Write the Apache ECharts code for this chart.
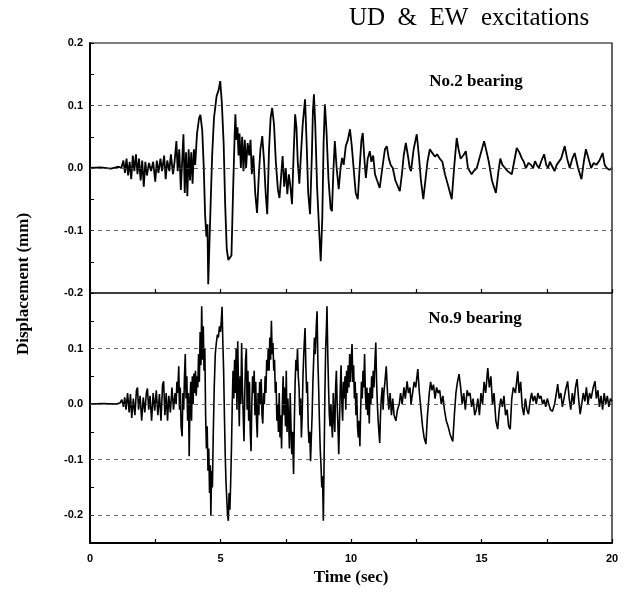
<!DOCTYPE html>
<html>
<head>
<meta charset="utf-8">
<script src="https://cdn.jsdelivr.net/npm/echarts@6/dist/echarts.min.js"></script>
<style>
  html, body { margin: 0; padding: 0; background: #fff; }
  #chart { width: 636px; height: 592px; }
</style>
</head>
<body>
<div id="chart"></div>
<script>
// time axis ticks (sec)
var timeTicks = [0, 5, 10, 15, 20];
// gridline levels for each panel (mm)
var no2Levels = [0.1, 0.0, -0.1];
var no9Levels = [0.1, 0.0, -0.1, -0.2];

// No.2 bearing displacement, [time(sec), mm]
var no2Points = [
  [0,0],[0.4,0.001],[0.8,-0.001],[1.1,0.002],[1.2,0],
  [1.28,0.012],[1.34,-0.008],[1.4,0.015],[1.46,-0.012],[1.52,0.01],[1.58,-0.018],[1.64,0.02],[1.7,-0.005],[1.76,0.022],[1.82,-0.01],
  [1.88,0.015],[1.94,-0.02],[2.0,0.012],[2.06,-0.03],[2.12,0.01],[2.18,-0.012],[2.26,0.008],[2.34,-0.005],[2.42,0.01],[2.5,-0.022],
  [2.56,0.012],[2.62,-0.008],[2.7,0.015],[2.76,-0.005],[2.84,0.02],[2.9,-0.018],[2.96,0.012],[3.04,-0.005],[3.1,0.022],[3.18,-0.01],[3.24,0.01],
  [3.31,0.043],[3.36,-0.005],[3.42,0.03],[3.48,-0.035],[3.53,0.01],[3.58,0.054],[3.63,-0.04],[3.68,0.025],[3.73,-0.045],[3.78,0.03],
  [3.83,-0.02],[3.88,0.025],[3.93,-0.025],[3.98,0.03],[4.03,0.005],[4.1,0.055],[4.18,0.08],[4.23,0.085],[4.3,0.06],[4.36,0.0],
  [4.41,-0.075],[4.46,-0.11],[4.5,-0.09],[4.53,-0.186],[4.57,-0.13],[4.62,-0.06],[4.68,0.02],[4.75,0.08],[4.85,0.115],[4.93,0.125],
  [4.99,0.139],[5.05,0.105],[5.12,0.04],[5.18,-0.06],[5.24,-0.13],[5.3,-0.147],[5.36,-0.149],[5.42,-0.14],[5.48,-0.04],[5.54,0.05],
  [5.57,0.086],[5.61,0.045],[5.65,0.065],[5.69,0.02],[5.73,0.055],[5.78,0.0],[5.83,0.05],[5.88,-0.005],[5.93,0.045],[5.98,0.0],
  [6.04,0.04],[6.1,0.02],[6.15,0.045],[6.2,-0.01],[6.26,0.02],[6.33,-0.04],[6.4,-0.072],[6.47,-0.01],[6.53,0.03],[6.6,0.051],
  [6.67,0.01],[6.73,-0.04],[6.79,-0.074],[6.86,0.03],[6.92,0.08],[6.98,0.096],[7.05,0.07],[7.12,0.01],[7.2,-0.035],[7.26,-0.048],
  [7.31,-0.02],[7.38,0.019],[7.44,-0.03],[7.5,0.0],[7.56,-0.042],[7.62,-0.01],[7.68,-0.03],[7.74,-0.058],[7.8,0.02],[7.86,0.086],
  [7.91,0.065],[7.96,0.01],[8.02,-0.025],[8.08,0.02],[8.15,0.07],[8.24,0.11],[8.3,0.04],[8.36,-0.04],[8.43,-0.074],[8.5,0.02],
  [8.54,0.09],[8.58,0.118],[8.63,0.07],[8.7,-0.03],[8.78,-0.1],[8.84,-0.149],[8.9,-0.08],[8.95,0.04],[9.0,0.102],[9.06,0.06],
  [9.14,-0.02],[9.22,-0.065],[9.27,-0.069],[9.33,0.0],[9.38,0.043],[9.45,0.0],[9.53,-0.034],[9.6,0.0],[9.66,0.016],[9.72,0.005],
  [9.8,0.035],[9.88,0.045],[9.96,0.062],[10.03,0.035],[10.1,0.0],[10.18,-0.04],[10.26,-0.05],[10.33,0.0],[10.4,0.045],[10.45,0.056],
  [10.52,0.01],[10.57,-0.016],[10.64,0.015],[10.72,0.027],[10.78,0.01],[10.85,0.02],[10.92,-0.01],[11.0,-0.02],[11.1,-0.032],[11.2,0.0],
  [11.3,0.03],[11.37,0.035],[11.45,0.015],[11.52,0.005],[11.6,0.0],[11.7,-0.02],[11.87,-0.037],[11.95,-0.01],[12.02,0.02],[12.1,0.04],
  [12.18,0.02],[12.25,0.0],[12.3,-0.005],[12.4,0.03],[12.52,0.054],[12.6,0.02],[12.68,-0.02],[12.77,-0.05],[12.85,-0.02],[12.93,0.01],
  [13.02,0.03],[13.1,0.025],[13.15,0.028],[13.22,0.018],[13.3,0.022],[13.4,0.015],[13.5,0.01],[13.6,-0.01],[13.7,-0.025],[13.86,-0.05],
  [13.95,0.0],[14.05,0.048],[14.12,0.03],[14.2,0.015],[14.3,0.02],[14.4,0.027],[14.48,0.0],[14.55,-0.005],[14.62,-0.01],[14.7,-0.005],
  [14.82,0.0],[14.95,0.02],[15.1,0.043],[15.2,0.025],[15.28,0.01],[15.4,-0.02],[15.55,-0.04],[15.65,-0.005],[15.72,0.015],[15.8,0.005],
  [15.9,0.0],[16.0,-0.005],[16.16,-0.01],[16.25,0.01],[16.35,0.032],[16.45,0.025],[16.55,0.015],[16.62,0.01],[16.7,0.0],[16.8,0.008],
  [16.9,0.005],[16.98,0.0],[17.05,0.011],[17.12,0.005],[17.2,0.0],[17.3,0.012],[17.4,0.022],[17.48,0.005],[17.55,0.0],[17.62,0.01],
  [17.68,0.012],[17.74,0.0],[17.8,-0.005],[17.88,0.005],[17.95,0.005],[18.05,0.015],[18.19,0.035],[18.28,0.015],[18.38,0.0],[18.48,0.015],
  [18.57,0.024],[18.7,0.0],[18.83,-0.018],[18.92,0.01],[19.0,0.03],[19.1,0.015],[19.2,0.0],[19.3,0.008],[19.4,0.005],[19.52,0.012],
  [19.64,0.024],[19.72,0.005],[19.8,0.0],[19.9,-0.003],[20.0,0.0]
];

// No.9 bearing displacement, [time(sec), mm]
var no9Points = [
  [0,0],[0.5,0.001],[1.0,0],[1.15,0.002],[1.22,0.008],[1.28,-0.005],[1.33,0.012],[1.38,-0.01],[1.44,0.02],[1.5,-0.015],
  [1.55,0.018],[1.6,-0.025],[1.66,0.01],[1.72,-0.02],[1.78,0.025],[1.82,0.03],[1.86,-0.01],[1.92,0.015],[1.98,-0.03],[2.04,0.012],
  [2.1,-0.015],[2.16,0.02],[2.2,0.028],[2.25,-0.01],[2.3,0.015],[2.36,-0.03],[2.42,0.02],[2.48,-0.012],[2.54,0.025],[2.6,-0.02],
  [2.66,0.018],[2.72,-0.03],[2.78,0.035],[2.82,0.041],[2.87,-0.02],[2.92,0.02],[2.97,-0.03],[3.02,0.015],[3.08,-0.015],[3.14,0.03],
  [3.2,-0.01],[3.26,0.02],
  [3.30,0.0],[3.33,0.04],[3.36,0.02],[3.40,0.068],[3.43,-0.01],[3.46,0.03],[3.49,-0.04],[3.53,-0.058],[3.56,0.02],[3.59,-0.01],
  [3.62,0.05],[3.65,0.09],[3.68,0.01],[3.71,0.05],[3.74,-0.03],[3.77,0.02],[3.80,-0.094],[3.83,0.0],[3.86,0.04],[3.89,-0.03],
  [3.92,0.05],[3.95,0.0],[3.98,0.055],[4.01,0.02],[4.04,0.06],[4.07,0.015],[4.10,0.05],[4.13,0.03],[4.16,0.09],[4.19,0.04],
  [4.22,0.13],[4.25,0.07],[4.28,0.176],[4.31,0.08],[4.34,0.14],[4.37,0.06],[4.40,0.1],[4.43,-0.02],[4.46,-0.08],[4.49,-0.04],
  [4.52,-0.12],[4.55,-0.08],[4.58,-0.16],[4.61,-0.11],[4.63,-0.2],[4.66,-0.12],[4.69,-0.15],[4.72,-0.06],[4.76,0.03],[4.80,0.09],
  [4.84,0.11],[4.88,0.125],[4.92,0.12],[4.96,0.14],[5.0,0.13],[5.03,0.15],[5.06,0.175],[5.09,0.11],[5.12,0.06],[5.15,-0.02],
  [5.18,-0.09],[5.21,-0.14],[5.24,-0.17],[5.27,-0.2],[5.30,-0.21],[5.33,-0.16],[5.36,-0.19],[5.39,-0.14],[5.42,-0.08],[5.45,0.0],
  [5.48,0.06],[5.51,0.01],[5.54,0.08],[5.57,0.02],[5.60,0.1],[5.63,-0.01],[5.66,0.113],[5.69,0.03],[5.72,-0.04],[5.75,0.05],
  [5.78,0.0],[5.81,0.11],[5.84,0.03],[5.87,-0.02],[5.90,-0.067],[5.93,0.02],[5.96,0.08],[5.99,0.1],[6.02,-0.01],[6.05,0.06],
  [6.08,-0.03],[6.11,0.04],[6.14,-0.05],[6.17,-0.085],[6.20,0.0],[6.23,0.05],[6.26,0.02],[6.29,0.06],[6.32,-0.02],[6.35,0.04],
  [6.38,-0.03],[6.41,-0.06],[6.44,0.02],[6.47,-0.02],[6.50,0.04],[6.53,0.0],[6.56,0.045],[6.59,-0.02],[6.62,-0.035],[6.65,0.02],
  [6.68,0.0],[6.71,0.05],[6.74,0.02],[6.77,0.08],[6.80,0.06],[6.83,0.1],[6.86,0.06],[6.89,0.12],[6.92,0.08],[6.95,0.15],
  [6.98,0.09],[7.01,0.11],[7.04,0.06],[7.07,0.08],[7.10,0.02],[7.13,0.04],[7.16,-0.03],[7.19,0.0],[7.22,-0.05],[7.25,0.02],
  [7.28,-0.06],[7.31,-0.02],[7.34,-0.08],[7.37,0.0],[7.40,0.05],[7.43,-0.02],[7.46,0.03],[7.49,-0.04],[7.52,0.06],[7.55,-0.05],
  [7.58,0.01],[7.61,-0.03],[7.64,-0.08],[7.67,0.02],[7.70,-0.04],[7.73,-0.09],[7.76,-0.05],[7.80,-0.126],[7.83,-0.03],[7.86,0.04],
  [7.89,0.08],[7.92,0.06],[7.95,0.1],[7.98,0.05],[8.01,0.03],[8.04,-0.02],[8.07,0.01],[8.10,-0.06],[8.13,-0.02],[8.16,0.05],
  [8.19,0.09],[8.22,0.12],[8.24,0.137],[8.27,0.07],[8.30,0.02],[8.33,0.04],[8.36,-0.04],[8.39,-0.07],[8.42,-0.05],[8.45,-0.103],
  [8.48,-0.06],[8.51,-0.02],[8.54,0.04],[8.57,0.08],[8.60,0.12],[8.63,0.09],[8.67,0.14],[8.70,0.167],[8.73,0.08],[8.76,0.03],
  [8.79,-0.03],[8.82,-0.08],[8.85,-0.11],[8.88,-0.15],[8.91,-0.13],[8.94,-0.21],[8.97,-0.1],[9.0,0.02],[9.03,0.1],[9.06,0.14],
  [9.08,0.176],[9.11,0.09],[9.14,0.03],[9.17,-0.02],[9.20,-0.04],[9.23,0.0],[9.26,-0.036],[9.29,-0.06],[9.32,0.02],[9.35,-0.02],
  [9.38,-0.05],[9.41,0.03],[9.44,0.06],[9.47,0.0],[9.50,-0.04],[9.53,-0.09],[9.56,-0.03],[9.59,0.03],[9.62,0.07],[9.65,0.0],
  [9.68,-0.03],[9.71,0.04],[9.74,0.01],[9.77,0.05],[9.80,-0.01],[9.83,0.06],[9.86,0.02],[9.89,0.07],[9.92,0.03],[9.95,0.09],
  [9.98,0.04],[10.01,0.08],[10.04,0.108],[10.07,0.04],[10.10,0.07],[10.13,0.01],[10.16,0.04],[10.19,-0.02],[10.22,0.02],[10.25,-0.04],
  [10.28,-0.06],[10.31,-0.03],[10.34,-0.076],[10.37,-0.01],[10.40,0.04],[10.43,0.01],[10.46,0.06],[10.49,0.03],[10.52,0.09],[10.55,0.02],
  [10.58,-0.01],[10.61,0.03],[10.64,-0.02],[10.67,0.02],[10.70,-0.035],[10.73,0.03],[10.76,0.0],[10.79,0.05],[10.82,0.01],[10.85,0.06],
  [10.88,0.03],[10.92,0.08],[10.95,0.111],[10.98,0.04],[11.01,0.0],[11.04,-0.03],[11.07,-0.05],[11.1,-0.07],[11.13,-0.02],[11.16,0.01],
  [11.2,0.03],[11.23,-0.01],[11.26,0.02],[11.3,0.04],[11.35,0.068],[11.4,0.02],[11.45,-0.01],[11.5,0.02],[11.55,-0.02],[11.6,0.01],
  [11.65,-0.02],[11.72,-0.03],[11.78,-0.01],[11.85,0.0],[11.9,0.02],[11.96,0.0],[12.03,0.03],[12.08,0.01],[12.15,0.041],[12.2,0.02],
  [12.26,0.03],[12.3,0.0],[12.36,0.02],[12.42,0.04],[12.48,0.03],[12.56,0.063],[12.62,0.02],[12.68,-0.01],[12.74,-0.04],[12.8,-0.06],
  [12.87,-0.072],[12.93,-0.02],[13.0,0.02],[13.05,0.04],[13.1,0.025],[13.16,0.035],[13.22,0.01],[13.28,0.03],[13.34,0.02],[13.4,0.025],
  [13.46,0.0],[13.52,0.015],[13.58,-0.01],[13.65,-0.03],[13.72,-0.04],[13.8,-0.055],[13.9,-0.067],[13.96,-0.02],[14.02,0.02],[14.08,0.04],
  [14.14,0.054],[14.2,0.03],[14.26,0.0],[14.32,0.02],[14.38,-0.01],[14.45,0.025],[14.5,0.015],[14.56,0.02],[14.62,-0.005],[14.68,0.01],
  [14.74,-0.02],[14.8,-0.01],[14.86,0.01],[14.92,-0.02],[14.98,0.02],[15.04,0.0],[15.1,0.04],[15.16,0.02],[15.24,0.065],[15.3,0.03],
  [15.36,0.05],[15.42,0.0],[15.48,0.02],[15.55,-0.03],[15.62,-0.045],[15.68,-0.01],[15.74,0.01],[15.8,-0.005],[15.86,0.015],[15.92,-0.02],
  [15.98,-0.01],[16.04,-0.04],[16.1,-0.045],[16.16,0.01],[16.22,0.03],[16.3,0.02],[16.39,0.059],[16.44,0.02],[16.5,0.04],[16.56,-0.005],
  [16.62,-0.02],[16.68,0.01],[16.74,-0.01],[16.8,-0.018],[16.86,0.005],[16.92,0.02],[16.98,0.005],[17.04,0.015],[17.1,0.0],[17.16,0.02],
  [17.22,0.01],[17.28,0.015],[17.34,0.0],[17.4,0.008],[17.46,-0.005],[17.52,0.01],[17.58,0.0],[17.64,-0.01],[17.72,-0.013],[17.8,0.0],
  [17.87,0.02],[17.92,0.036],[17.98,0.01],[18.04,0.02],[18.1,-0.005],[18.16,0.01],[18.22,0.025],[18.3,0.041],[18.36,0.01],[18.42,-0.01],
  [18.48,0.02],[18.54,0.0],[18.6,0.03],[18.66,0.045],[18.72,0.01],[18.78,-0.018],[18.84,0.0],[18.9,0.02],[18.96,0.005],[19.02,0.03],
  [19.08,0.0],[19.14,0.02],[19.2,0.01],[19.28,0.03],[19.35,0.041],[19.4,0.01],[19.46,0.025],[19.52,-0.005],[19.58,0.015],[19.64,-0.01],
  [19.7,0.02],[19.76,0.0],[19.82,0.015],[19.88,-0.005],[19.94,0.01],[20.0,0.005]
];

var main = {
    init: function () {
        var dom = document.getElementById('chart');
        var myChart = echarts.init(dom);
        myChart.setOption(this.buildOption(), true);
    },
    // only every 0.1 mm gets a label, the 0.05 steps just carry a tick
    yLabel: function (hideTop) {
        return function (v) {
            var r = Math.round(v * 100);
            if (r % 10 !== 0) return '';
            if (hideTop && r === 20) return '';
            return (Math.round(v * 10) / 10).toFixed(1);
        };
    },
    gridLines: function (levels) {
        return {
            silent: true,
            symbol: 'none',
            animation: false,
            label: { show: false },
            lineStyle: { color: '#444', width: 0.8, type: [4, 4] },
            data: levels.map(function (l) { return { yAxis: l }; })
        };
    },
    buildOption: function () {
        var _this = this;
        var labelFont = { color: '#000', fontFamily: 'Liberation Sans', fontWeight: 'bold', fontSize: 11 };
        var serif = 'Liberation Serif';
        var xBase = {
            type: 'value', min: timeTicks[0], max: timeTicks[timeTicks.length - 1], interval: 2.5,
            splitLine: { show: false },
            axisTick: { inside: true, length: 4, lineStyle: { color: '#000', width: 1.2 } }
        };
        var yBase = {
            type: 'value', interval: 0.05,
            splitLine: { show: false },
            axisLine: { show: true, lineStyle: { color: '#000', width: 2 } },
            axisTick: { inside: true, length: 4, lineStyle: { color: '#000', width: 1 } }
        };
        return {
            backgroundColor: '#fff',
            animation: false,
            title: {
                text: 'UD  &  EW  excitations',
                left: 344, top: 1,
                textStyle: { fontFamily: serif, fontWeight: 'normal', fontSize: 25, color: '#000' }
            },
            graphic: [
                { type: 'text', x: 476, y: 82,
                  style: { text: 'No.2 bearing', font: 'bold 17px "Liberation Serif"', fill: '#000', align: 'center', verticalAlign: 'middle' } },
                { type: 'text', x: 475, y: 319,
                  style: { text: 'No.9 bearing', font: 'bold 17px "Liberation Serif"', fill: '#000', align: 'center', verticalAlign: 'middle' } },
                { type: 'text', x: 24, y: 284, rotation: Math.PI / 2,
                  style: { text: 'Displacement (mm)', font: 'bold 17px "Liberation Serif"', fill: '#000', align: 'center', verticalAlign: 'middle' } },
                { type: 'text', x: 351, y: 578,
                  style: { text: 'Time (sec)', font: 'bold 17px "Liberation Serif"', fill: '#000', align: 'center', verticalAlign: 'middle' } }
            ],
            grid: [
                { left: 90, top: 43, width: 522, height: 250, show: true, borderColor: '#000', borderWidth: 1.2 },
                { left: 90, top: 293, width: 522, height: 250, show: true, borderColor: '#000', borderWidth: 1.2 }
            ],
            xAxis: [
                Object.assign({}, xBase, { gridIndex: 0, axisLabel: { show: false }, axisLine: { show: false, onZero: false } }),
                Object.assign({}, xBase, {
                    gridIndex: 1,
                    axisLine: { show: true, onZero: false, lineStyle: { color: '#000', width: 2 } },
                    axisLabel: Object.assign({ margin: 10, formatter: function (v) { return timeTicks.indexOf(v) >= 0 ? String(v) : ''; } }, labelFont)
                })
            ],
            yAxis: [
                Object.assign({}, yBase, { gridIndex: 0, min: -0.2, max: 0.2,
                    axisLabel: Object.assign({ margin: 7, formatter: _this.yLabel(false) }, labelFont) }),
                Object.assign({}, yBase, { gridIndex: 1, min: -0.25, max: 0.2,
                    axisLabel: Object.assign({ margin: 7, formatter: _this.yLabel(true) }, labelFont) })
            ],
            series: [
                {
                    name: 'No.2 bearing', type: 'line', xAxisIndex: 0, yAxisIndex: 0,
                    data: no2Points, showSymbol: false, smooth: false,
                    lineStyle: { color: '#000', width: 1.8 },
                    markLine: _this.gridLines(no2Levels)
                },
                {
                    name: 'No.9 bearing', type: 'line', xAxisIndex: 1, yAxisIndex: 1,
                    data: no9Points, showSymbol: false, smooth: false,
                    lineStyle: { color: '#000', width: 1.6 },
                    markLine: _this.gridLines(no9Levels)
                }
            ]
        };
    }
};

main.init();
</script>
</body>
</html>
